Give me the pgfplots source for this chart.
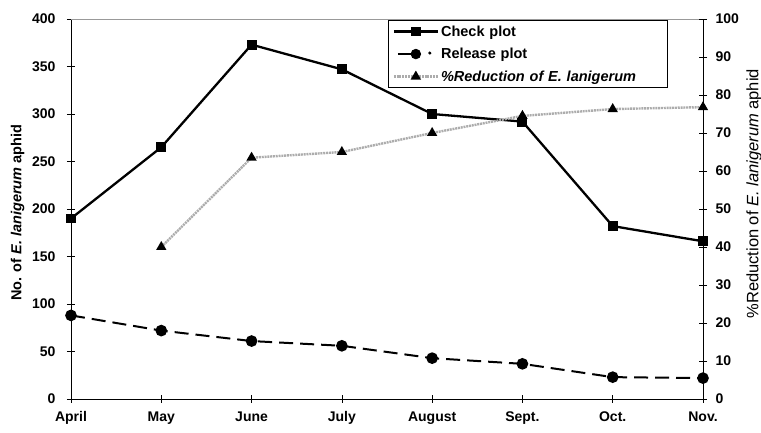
\documentclass[border=0pt]{standalone}
\usepackage{pgfplots}
\pgfplotsset{compat=1.18}
\usepackage{fontspec}
\setmainfont{Liberation Sans}
\begin{document}
\begin{tikzpicture}[x=1pt,y=1pt]
\path[use as bounding box] (0,0) rectangle (761,433);
\pgfplotsset{
  common/.style={
    scale only axis, width=632pt, height=380pt,
    xmin=0, xmax=7,
    tick align=center,
    major tick length=8pt,
    /pgf/number format/assume math mode=true,
    tick label style={font=\fontsize{14}{16}\selectfont\bfseries},
    axis line style={line width=0.9pt},
    every tick/.style={line width=0.7pt, black},
  }
}
\begin{axis}[common,
  at={(71pt,34pt)}, anchor=south west,
  ymin=0, ymax=400, ytick={0,50,...,400},
  axis y line*=left, axis x line*=bottom,
  xtick={0,...,7},
  xticklabels={April,May,June,July,August,Sept.,Oct.,Nov.},
  xticklabel style={yshift=-5pt},
  yticklabel style={xshift=-8pt},
  ylabel={No. of \textit{E. lanigerum} aphid},
  ylabel style={font=\fontsize{14.5}{16}\selectfont\bfseries, at={(rel axis cs:0,0.49)}, yshift=43pt, anchor=south},
]
\addplot[black, line width=2.3pt, mark=square*, mark size=3.8pt] coordinates {
(0,190) (1,265) (2,373) (3,347) (4,300) (5,292) (6,182) (7,166)};
\addplot[black, line width=2pt, dash pattern=on 14pt off 7pt, mark=*, mark size=4.8pt, mark options={solid}] coordinates {
(0,88) (1,72) (2,61) (3,56) (4,43) (5,37) (6,23) (7,22)};
\draw[line width=0.9pt, gray!80] (rel axis cs:0,1) -- (rel axis cs:1,1);
\end{axis}
\begin{axis}[common,
  at={(71pt,34pt)}, anchor=south west,
  ymin=0, ymax=100, ytick={0,10,...,100},
  axis y line*=right, axis x line=none,
  yticklabel style={xshift=5pt},
  ylabel={\%Reduction of \textit{E. lanigerum} aphid},
  ylabel style={font=\fontsize{16.5}{18}\selectfont, at={(rel axis cs:1,0.54)}, yshift=-40pt, anchor=north},
  legend style={at={(0.502,0.997)}, anchor=north west, draw=black, line width=0.8pt,
    font=\fontsize{14.5}{17}\selectfont\bfseries, row sep=6.5pt, inner xsep=4pt, inner ysep=3pt,
    cells={anchor=west, text width=220pt}},
  legend cell align=left,
  legend image code/.code={\draw[mark repeat=2,mark phase=2,#1] plot coordinates {(0pt,0pt) (22pt,0pt) (44pt,0pt)};},
]
\addlegendimage{black, line width=2.3pt, mark=square*, mark size=3.8pt}
\addlegendentry{Check plot}
\addlegendimage{legend image code/.code={\draw[black, line width=2.3pt] (4pt,0pt) -- (22pt,0pt); \fill[black] (22pt,0pt) circle (4.8pt); \fill[black] (36pt,1pt) circle (1.1pt);}}
\addlegendentry{Release plot}
\addplot[gray!65, line width=2.4pt, dash pattern=on 2pt off 0.8pt, mark=triangle*, mark size=3.6pt, mark options={solid, black}] coordinates {
(1,40) (2,63.5) (3,65) (4,70) (5,74.5) (6,76.3) (7,76.8)};
\addlegendentry{\textit{\%Reduction of E. lanigerum}}
\end{axis}
\end{tikzpicture}
\end{document}
